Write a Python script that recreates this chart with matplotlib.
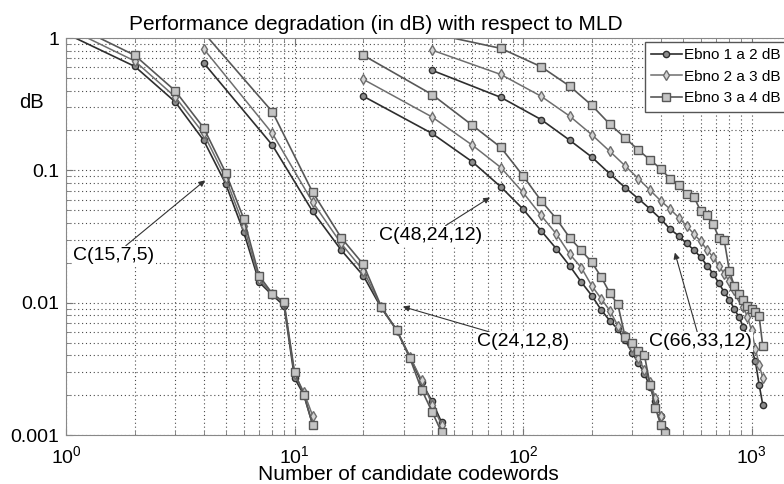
import numpy as np
import matplotlib.pyplot as plt
from matplotlib.ticker import LogLocator, NullFormatter

plt.rcParams['font.family'] = ['Liberation Sans', 'DejaVu Sans']

# C(15,7,5)
x15 = [1, 2, 3, 4, 5, 6, 7, 8, 9, 10, 11, 12]
c15_e1 = [1.08, 0.61, 0.33, 0.169, 0.079, 0.034, 0.0143, 0.0114, 0.0095, 0.0027, 0.0020, 0.0012]
c15_e2 = [1.2, 0.67, 0.36, 0.19, 0.087, 0.038, 0.015, 0.0116, 0.0099, 0.0029, 0.0021, 0.0014]
c15_e3 = [1.33, 0.74, 0.40, 0.21, 0.096, 0.043, 0.016, 0.0117, 0.0101, 0.0030, 0.0020, 0.0012]

# C(24,12,8)
x24 = [4, 8, 12, 16, 20, 24, 28, 32, 36, 40, 44]
c24_e1 = [0.65, 0.155, 0.049, 0.025, 0.016, 0.0091, 0.0062, 0.0039, 0.0025, 0.0018, 0.00125]
c24_e2 = [0.83, 0.19, 0.0575, 0.028, 0.0175, 0.0092, 0.0062, 0.0039, 0.0026, 0.0017, 0.0012]
c24_e3 = [1.1, 0.277, 0.0685, 0.031, 0.0195, 0.0093, 0.0062, 0.0038, 0.0022, 0.0015, 0.00105]

# C(48,24,12)
x48 = [20, 40, 60, 80, 100, 120, 140, 160, 180, 200, 220,
       240, 260, 280, 300, 320, 340, 360, 380, 400, 420]
c48_e1 = [0.363, 0.19, 0.116, 0.075, 0.051, 0.035, 0.0255, 0.019, 0.0143, 0.0113, 0.0088,
          0.0073, 0.0063, 0.0052, 0.0042, 0.0035, 0.0029, 0.0023, 0.0018, 0.0014, 0.0011]
c48_e2 = [0.487, 0.253, 0.155, 0.105, 0.068, 0.0456, 0.033, 0.0233, 0.0184, 0.0134, 0.0107,
          0.0087, 0.0067, 0.0056, 0.0046, 0.0038, 0.0031, 0.0025, 0.0019, 0.0014, 0.00105]
c48_e3 = [0.74, 0.374, 0.219, 0.149, 0.091, 0.059, 0.043, 0.031, 0.0248, 0.0202, 0.0156,
          0.0118, 0.0097, 0.0055, 0.0050, 0.0043, 0.0040, 0.0024, 0.0016, 0.0012, 0.00103]

# C(66,33,12)
x66 = [40, 80, 120, 160, 200, 240, 280, 320, 360, 400, 440, 480, 520, 560,
       600, 640, 680, 720, 760, 800, 840, 880, 920, 960, 1000, 1040, 1080, 1120]
c66_e1 = [0.57, 0.356, 0.242, 0.169, 0.126, 0.094, 0.074, 0.061, 0.051, 0.043, 0.036, 0.032, 0.028, 0.025,
          0.022, 0.019, 0.0165, 0.014, 0.012, 0.0105, 0.009, 0.0078, 0.0066, 0.0055, 0.0045, 0.0036, 0.0024, 0.0017]
c66_e2 = [0.81, 0.53, 0.363, 0.257, 0.186, 0.139, 0.108, 0.0865, 0.0707, 0.059, 0.051, 0.044, 0.038, 0.033,
          0.029, 0.025, 0.022, 0.019, 0.0165, 0.0145, 0.0125, 0.011, 0.0093, 0.0078, 0.0062, 0.0045, 0.0034, 0.0027]
c66_e3 = [1.08, 0.835, 0.607, 0.433, 0.31, 0.223, 0.176, 0.142, 0.12, 0.103, 0.0865, 0.077, 0.066, 0.063,
          0.049, 0.046, 0.039, 0.031, 0.0295, 0.0175, 0.0134, 0.0117, 0.0105, 0.0095, 0.0090, 0.0085, 0.0079, 0.0047]

labels = ['Ebno 1 a 2 dB', 'Ebno 2 a 3 dB', 'Ebno 3 a 4 dB']
yticks = [0.001, 0.01, 0.1, 1]
ytick_labels = ['0.001', '0.01', '0.1', '1']

estilos = [
    dict(color='#2e2e2e', marker='o', ms=4.5, mfc='#8c8c8c', mec='#2e2e2e', lw=1.2),
    dict(color='#6e6e6e', marker='d', ms=5, mfc='#d4d4d4', mec='#6e6e6e', lw=1.1),
    dict(color='#575757', marker='s', ms=5.5, mfc='#c4c4c4', mec='#575757', lw=1.2),
]

grupos = [
    (x15, [c15_e1, c15_e2, c15_e3]),
    (x24, [c24_e1, c24_e2, c24_e3]),
    (x48, [c48_e1, c48_e2, c48_e3]),
    (x66, [c66_e1, c66_e2, c66_e3]),
]

fig = plt.figure(figsize=(7.84, 4.84), dpi=100)
# los ejes siguen un poco mas alla del borde derecho, como en la imagen original recortada
ax = fig.add_axes([66/784, 49/484, 734/784, 397/484])

for gi, (xs, series) in enumerate(grupos):
    for si, ys in enumerate(series):
        ax.plot(xs, ys, label=labels[si] if gi == 0 else None, **estilos[si])

ax.set_xscale('log')
ax.set_yscale('log')
ax.set_xlim(1, 10 ** (734 / 228.5))
ax.set_ylim(0.001, 1)

ax.set_yticks(yticks, ytick_labels)
ax.yaxis.set_minor_locator(LogLocator(base=10, subs=np.arange(2, 10), numticks=20))
ax.xaxis.set_minor_locator(LogLocator(base=10, subs=np.arange(2, 10), numticks=20))
ax.yaxis.set_minor_formatter(NullFormatter())
ax.xaxis.set_minor_formatter(NullFormatter())

ax.grid(True, which='both', linestyle=(0, (1, 2.5)), color='#4a4a4a', linewidth=0.8)
ax.tick_params(which='both', direction='in', top=True, right=True, labelsize=14, color='#777')
ax.tick_params(which='major', length=5)
ax.tick_params(which='minor', length=3)
ax.tick_params(axis='x', which='major', pad=7)
ax.tick_params(axis='y', which='major', pad=5)
for s in ax.spines.values():
    s.set_color('#888')

ax.set_title('Performance degradation (in dB) with respect to MLD', fontsize=15,
             x=(376 - 66) / 734, pad=6)
ax.set_xlabel('Number of candidate codewords', fontsize=15)
ax.xaxis.set_label_coords((408 - 66) / 734, -0.075)
ax.set_ylabel('dB', fontsize=14.5, rotation=0, va='center', ha='center')
ax.yaxis.set_label_coords(-35 / 734, (435 - 102) / 397)

# etiquetas de los codigos
caja = dict(fc='white', ec='none', pad=1)
flecha = dict(arrowstyle='-|>', color='#333', lw=0.8, shrinkA=0, shrinkB=0, mutation_scale=9)
ax.annotate('C(15,7,5)', xy=(4.06, 0.084), xytext=(1.62, 0.0227), ha='center', va='center',
            fontsize=14, bbox=caja, arrowprops=flecha)
ax.annotate('C(48,24,12)', xy=(71.7, 0.0624), xytext=(39.2, 0.0322), ha='center', va='center',
            fontsize=14, bbox=caja, arrowprops=flecha)
ax.annotate('C(24,12,8)', xy=(29.8, 0.00933), xytext=(100, 0.00507), ha='center', va='center',
            fontsize=14, bbox=caja, arrowprops=flecha)
ax.annotate('C(66,33,12)', xy=(462, 0.0239), xytext=(595, 0.00507), ha='center', va='center',
            fontsize=14, bbox=caja, arrowprops=flecha)

ax.legend(loc='upper left', bbox_to_anchor=((645 - 66) / 734, (435 - 42) / 397),
          borderaxespad=0, fontsize=11, fancybox=False, framealpha=1, edgecolor='#555',
          handlelength=2.0, handletextpad=0.15, labelspacing=0.5, borderpad=0.4)

fig.savefig('out.png', dpi=100)
